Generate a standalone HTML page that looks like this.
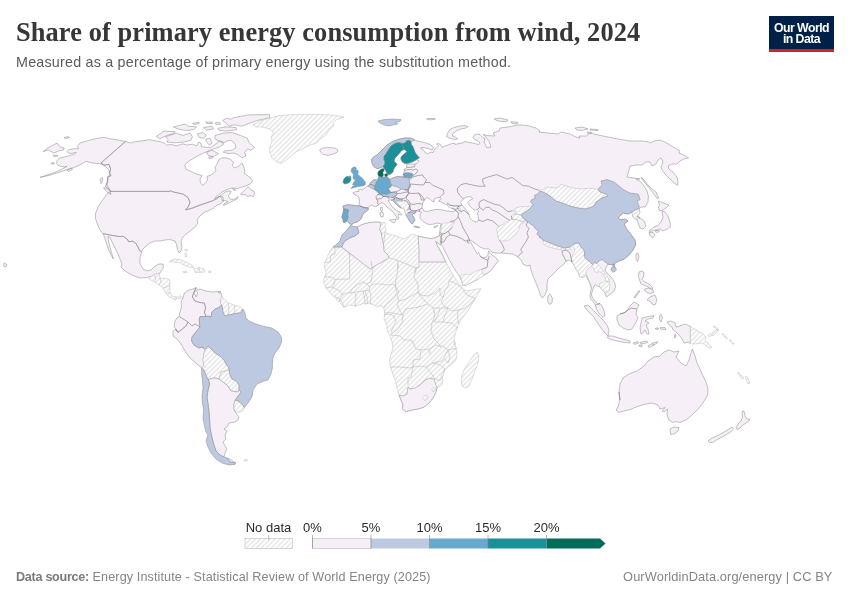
<!DOCTYPE html>
<html><head><meta charset="utf-8">
<title>Share of primary energy consumption from wind, 2024</title>
<style>
html,body{margin:0;padding:0;background:#fff;}
body{width:850px;height:600px;position:relative;overflow:hidden;font-family:"Liberation Sans",sans-serif;}
.abs{position:absolute;white-space:nowrap;line-height:1;}
#title{left:16px;top:18.7px;font-family:"Liberation Serif",serif;font-weight:bold;font-size:26.4px;color:#373737;letter-spacing:0.1px;}
#sub{left:16px;top:55.3px;font-size:14.3px;color:#5b5b5b;letter-spacing:0.22px;}
#logo{left:769px;top:16px;width:65px;height:33px;background:#002147;border-bottom:3px solid #ce261e;}
#logo div{position:absolute;left:0;width:65px;text-align:center;color:#fff;font-weight:bold;font-size:12.3px;letter-spacing:-0.55px;line-height:1;}
#src{left:16px;top:570.6px;font-size:12.6px;color:#858585;letter-spacing:0.12px}
#src b{color:#7a7a7a;letter-spacing:-0.28px}
#lic{right:17.5px;top:570.6px;font-size:12.8px;color:#858585;letter-spacing:0.11px}
svg{position:absolute;left:0;top:0;}
.lg{font-size:13px;fill:#2a2a2a;text-anchor:middle;font-family:"Liberation Sans",sans-serif;}
</style></head><body>
<svg id="map" width="850" height="600" viewBox="0 0 850 600">
<defs>
<pattern id="hatch" patternUnits="userSpaceOnUse" width="3.5" height="3.5" patternTransform="rotate(-45)">
<rect width="3.5" height="3.5" fill="#fff"/><line x1="0" y1="1.75" x2="3.5" y2="1.75" stroke="#e6e6e6" stroke-width="1.45"/>
</pattern>
</defs>
<g id="land" stroke="#868686" stroke-width="0.5" stroke-linejoin="round">
<path fill="#f6eff7" d="M125.6 141.4 L130.0 143.0 L136.0 141.6 L144.0 140.6 L149.0 139.6 L154.0 140.5 L158.5 141.4 L164.1 142.8 L166.7 145.2 L171.2 144.5 L176.8 145.9 L182.5 143.8 L186.7 145.0 L192.4 144.2 L196.6 145.9 L198.7 142.0 L201.1 143.1 L201.5 146.6 L206.5 147.4 L210.7 147.4 L215.0 144.5 L219.2 141.0 L222.7 141.7 L223.4 144.5 L219.2 147.1 L213.5 149.0 L209.3 150.5 L203.6 153.0 L196.6 156.5 L189.5 160.8 L184.6 165.0 L186.0 169.2 L192.4 172.1 L195.0 173.5 L198.0 174.5 L202.0 175.5 L200.0 179.0 L200.5 183.0 L202.5 185.5 L205.0 183.5 L207.5 180.0 L207.0 176.5 L212.0 174.5 L216.0 171.0 L215.0 167.5 L216.5 165.0 L219.0 159.5 L222.0 157.8 L227.0 158.0 L230.5 159.5 L233.5 162.0 L232.5 165.5 L234.5 168.0 L238.0 166.5 L242.0 163.0 L244.0 167.5 L245.0 171.5 L244.0 173.0 L248.0 176.0 L251.0 178.5 L252.5 180.5 L251.0 183.5 L249.0 184.5 L245.0 186.0 L241.0 187.5 L237.0 188.5 L233.0 188.0 L230.0 188.5 L226.0 190.0 L222.0 192.0 L218.5 195.0 L216.0 196.5 L214.5 199.0 L220.0 196.0 L213.0 200.5 L208.0 202.5 L203.0 204.0 L197.0 206.5 L191.6 208.5 L185.6 210.0 L188.0 207.0 L190.0 202.4 L188.0 197.6 L183.0 194.0 L176.0 192.6 L171.4 191.4 L170.4 190.4 L170.0 191.4 L111.0 191.4 L109.0 189.0 L105.6 186.4 L106.6 184.0 L107.6 180.0 L107.6 177.0 L111.0 175.6 L109.6 173.0 L110.6 169.0 L109.0 164.4 L104.0 165.2 L101.0 163.0ZM103.6 187.6 L107.0 188.4 L110.0 191.6 L111.0 194.4 L108.4 193.0 L105.0 190.0ZM220.0 196.2 L221.2 195.2 L225.0 192.0 L228.0 191.0 L231.0 191.0 L230.5 193.0 L228.5 195.5 L229.0 198.0 L231.5 199.5 L235.0 199.0 L238.0 196.5 L237.0 199.0 L233.0 201.0 L228.0 203.5 L223.5 205.5 L224.0 204.0 L228.0 201.5 L225.0 200.5 L222.5 201.2 L221.8 199.0ZM240.5 194.0 L245.0 190.0 L248.0 186.5 L249.5 188.5 L251.0 190.0 L254.0 191.0 L254.5 194.0 L253.0 197.0 L251.0 195.5 L248.0 196.5 L245.0 194.5 L242.0 194.7ZM232.5 188.5 L235.0 189.5 L236.0 190.5 L233.5 190.0ZM156.4 136.3 L164.1 131.1 L175.4 131.8 L172.6 133.9 L166.9 135.4 L159.9 138.6ZM165.5 136.8 L176.1 133.2 L183.2 135.4 L190.2 133.2 L192.4 136.8 L190.9 140.3 L183.9 142.0 L175.4 142.8 L166.9 142.0 L168.1 139.6ZM173.3 126.9 L185.3 124.1 L188.1 126.2 L196.6 126.9 L193.8 129.7 L185.3 130.4 L178.2 129.0ZM192.4 123.4 L198.7 122.2 L199.4 123.4 L193.8 124.5ZM205.8 121.9 L212.1 122.2 L212.8 123.6 L206.5 123.4ZM203.6 127.6 L212.1 126.2 L213.5 129.0 L206.5 130.1ZM214.9 123.1 L219.2 122.2 L220.6 124.1 L216.4 124.8ZM233.3 117.7 L248.8 114.9 L269.6 114.6 L269.6 117.7 L257.3 120.5 L248.8 123.4 L241.8 126.2 L234.7 124.8 L229.1 126.2 L226.2 123.4 L222.7 120.5 L226.2 118.4 L231.2 119.1ZM217.8 128.3 L226.2 126.9 L236.1 127.6 L236.8 129.7 L226.2 131.1 L219.2 130.4ZM214.9 135.4 L223.4 133.2 L231.9 132.5 L240.4 135.4 L247.4 138.2 L248.8 142.4 L254.5 147.4 L250.9 150.2 L247.4 148.8 L244.6 152.3 L246.0 155.8 L241.8 157.9 L237.5 154.4 L233.3 153.0 L229.1 153.7 L223.4 152.3 L224.1 150.9 L231.9 150.2 L236.1 147.4 L234.7 143.1 L231.2 140.3 L226.9 141.0 L223.4 143.1 L219.2 141.0 L214.9 138.9ZM197.3 133.9 L202.9 132.5 L206.5 135.4 L203.6 138.2 L199.4 137.5ZM205.8 138.9 L210.0 138.2 L212.1 143.1 L209.3 145.2 L206.5 141.7ZM206.5 152.3 L212.1 150.2 L218.5 153.7 L213.5 156.5 L208.6 155.8ZM208.6 157.2 L212.1 156.5 L212.8 157.9 L209.3 158.6ZM111.0 191.4 L170.0 191.4 L170.4 190.4 L171.4 191.4 L176.0 192.6 L183.0 194.0 L188.0 197.6 L190.0 202.4 L188.0 207.0 L185.6 210.0 L192.0 208.0 L198.0 205.6 L203.0 204.0 L208.0 202.4 L213.0 200.6 L217.0 199.0 L220.0 196.0 L223.0 197.0 L223.6 201.0 L220.0 204.0 L217.0 205.0 L213.6 208.0 L210.0 210.0 L205.0 212.0 L202.0 214.0 L199.0 217.0 L197.0 220.0 L198.0 223.0 L195.0 227.0 L190.0 231.0 L185.6 234.4 L182.0 238.0 L181.0 242.0 L182.0 247.0 L181.0 251.0 L179.0 253.0 L177.4 249.0 L176.4 244.0 L175.0 241.0 L170.0 239.6 L165.0 240.0 L160.0 241.0 L155.0 241.0 L150.0 243.0 L146.0 246.0 L143.0 249.0 L141.6 252.0 L139.4 250.4 L138.0 247.0 L135.6 243.0 L132.0 241.0 L129.0 242.0 L127.0 239.0 L123.0 236.2 L120.0 236.6 L116.0 236.0 L110.0 235.0 L103.0 233.6 L100.0 230.0 L97.6 225.0 L95.6 219.0 L95.4 214.0 L97.6 208.0 L101.0 202.0 L105.0 197.0 L108.0 193.0ZM125.6 141.4 L118.0 140.0 L109.6 138.6 L104.0 137.4 L96.0 138.6 L88.0 140.6 L80.0 143.0 L77.6 146.4 L78.4 149.0 L75.0 148.6 L69.0 149.6 L67.0 151.6 L70.0 153.6 L76.4 152.4 L74.0 154.4 L66.0 156.6 L60.0 158.0 L57.0 160.6 L56.6 163.6 L59.0 166.0 L64.0 167.0 L67.0 166.4 L58.0 171.0 L50.0 174.0 L40.0 177.4 L50.0 175.2 L60.0 172.0 L68.0 169.4 L72.4 168.0 L79.0 165.4 L86.0 161.2 L89.0 162.2 L94.0 163.2 L100.0 163.6 L104.0 165.2 L109.0 164.4 L110.6 169.0 L109.6 173.0 L111.0 175.6 L108.0 177.0 L107.6 180.0 L106.6 184.0 L105.6 186.4 L109.0 189.0 L111.0 192.0 L109.0 189.0 L107.0 185.0 L108.0 181.0 L107.6 177.0 L109.6 175.0 L109.0 170.0 L106.0 167.0 L101.0 163.0ZM43.0 151.6 L48.0 148.0 L57.0 143.0 L60.0 147.0 L64.0 148.0 L63.6 150.0 L58.0 151.0 L54.0 153.0 L50.0 151.0 L48.0 150.0ZM64.0 137.6 L68.0 136.6 L69.6 137.6 L66.0 138.6ZM53.0 155.4 L57.0 155.0 L58.0 156.0 L54.0 156.6ZM51.0 163.0 L54.0 162.6 L54.4 164.0 L51.6 164.2ZM67.0 170.0 L71.6 168.0 L72.4 169.6 L68.4 171.4ZM100.0 179.0 L102.4 177.6 L102.8 180.0 L101.0 183.6ZM4.0 263.0 L7.0 264.5 L6.0 267.0 L3.5 266.0ZM103.0 233.6 L110.0 235.0 L116.0 236.0 L120.0 236.6 L123.0 236.2 L127.0 239.0 L129.0 242.0 L132.0 241.0 L135.6 243.0 L138.0 247.0 L139.4 250.4 L141.6 252.0 L140.0 258.0 L140.0 264.0 L143.0 269.0 L147.0 271.0 L151.0 270.0 L155.0 266.0 L159.0 264.0 L163.0 264.0 L163.4 268.0 L161.0 271.0 L159.6 273.6 L156.0 274.0 L153.6 276.0 L154.4 280.0 L150.0 276.4 L147.0 277.6 L140.0 278.0 L132.0 275.0 L125.0 271.0 L121.0 267.0 L122.0 264.0 L120.0 259.0 L117.0 252.0 L113.0 244.0 L110.0 237.4 L108.0 236.6 L108.4 241.0 L110.0 247.0 L112.0 254.0 L113.4 259.0 L111.0 255.0 L108.4 249.0 L106.0 242.0 L104.4 237.0Z"/>
<path fill="url(#hatch)" stroke="#bcbcbc" d="M169.0 261.6 L174.0 259.0 L180.0 259.6 L186.0 262.0 L192.0 265.0 L194.0 267.6 L189.0 267.0 L184.0 265.0 L179.0 262.4 L173.0 262.0ZM194.0 269.0 L199.0 267.6 L204.0 269.0 L205.0 272.0 L200.0 272.4 L195.0 272.4ZM183.0 271.6 L186.0 271.0 L187.0 272.4 L183.6 273.0ZM208.4 271.2 L211.0 271.0 L211.0 272.4 L208.4 272.4ZM184.4 249.6 L187.0 249.0 L187.4 251.0 L185.6 250.4ZM185.0 253.6 L186.4 253.2 L186.6 257.0 L185.2 256.6ZM149.0 279.0 L150.0 276.4 L154.0 275.0 L159.0 273.0 L160.0 278.0 L166.0 278.4 L170.0 280.0 L169.6 286.0 L170.0 292.0 L172.0 296.0 L177.0 297.0 L181.0 295.6 L183.0 298.0 L181.0 299.0 L178.0 298.0 L175.0 300.0 L172.0 298.0 L169.0 297.0 L166.0 293.0 L163.0 288.0 L159.0 285.0 L154.0 281.6Z"/>
<path fill="#f6eff7" d="M183.0 298.0 L184.4 293.0 L189.0 290.0 L193.0 289.0 L196.0 287.6 L193.6 293.0 L192.4 297.0 L195.0 301.0 L200.0 302.6 L204.4 303.0 L205.6 308.0 L204.4 312.4 L206.0 316.6 L200.0 316.6 L199.2 320.0 L200.0 327.0 L195.0 324.0 L192.0 326.0 L188.0 322.0 L183.0 319.0 L179.0 316.6 L180.0 312.0 L181.6 307.0 L181.0 302.0ZM196.0 287.6 L198.0 290.0 L200.0 289.0 L206.0 291.0 L212.0 292.0 L217.0 291.6 L221.0 293.0 L222.0 297.0 L220.0 300.0 L221.6 305.0 L218.0 308.0 L215.0 309.0 L212.0 312.0 L211.0 317.0 L208.0 316.0 L206.0 316.6 L204.4 312.4 L205.6 308.0 L204.4 303.0 L200.0 302.6 L195.0 301.0 L192.4 297.0 L193.6 293.0Z"/>
<path fill="#ffffff" d="M194.4 293.0 L196.0 290.0 L197.6 293.0 L196.0 297.0Z"/>
<path fill="#f6eff7" d="M218.4 291.4 L220.4 291.2 L220.4 292.8 L218.6 292.8Z"/>
<path fill="url(#hatch)" stroke="#bcbcbc" d="M222.0 297.0 L225.0 300.0 L229.0 303.0 L234.0 305.0 L239.0 306.4 L243.0 309.0 L241.0 313.0 L238.0 313.0 L233.0 314.0 L228.0 315.0 L225.0 316.0 L223.0 312.0 L222.4 307.0 L221.6 305.0 L220.0 300.0Z"/>
<path fill="#f6eff7" d="M179.0 316.6 L183.0 319.0 L188.0 322.0 L186.0 326.0 L181.0 330.0 L178.0 332.4 L175.6 329.0 L174.0 326.0 L175.0 321.0 L177.0 318.0ZM175.6 329.0 L178.0 332.4 L181.0 330.0 L186.0 326.0 L188.0 322.0 L192.0 326.0 L195.0 324.0 L200.0 327.0 L195.0 333.0 L192.0 337.0 L191.6 341.0 L194.0 345.0 L199.0 348.0 L202.0 347.0 L205.0 350.0 L203.6 355.0 L203.0 360.0 L204.0 365.0 L202.0 368.0 L197.0 364.0 L190.0 358.0 L185.0 351.0 L181.0 344.0 L177.0 339.0 L173.0 336.0 L173.0 331.6Z"/>
<path fill="url(#hatch)" stroke="#bcbcbc" d="M205.0 350.0 L206.0 349.0 L208.0 346.0 L211.0 349.0 L215.0 353.0 L220.0 356.0 L224.0 360.0 L226.0 364.0 L229.0 368.0 L229.0 370.0 L225.0 371.0 L221.0 372.0 L219.0 379.0 L215.0 378.0 L211.0 378.4 L208.4 380.0 L206.0 375.0 L204.0 370.0 L202.0 368.0 L204.0 365.0 L203.0 360.0 L203.6 355.0ZM221.0 372.0 L225.0 371.0 L229.0 370.0 L230.0 375.0 L232.0 379.0 L236.0 381.0 L239.0 385.0 L239.0 390.0 L238.0 392.0 L231.0 391.0 L228.0 386.0 L223.0 382.0 L219.0 379.0ZM235.0 400.0 L238.0 401.0 L242.0 404.0 L244.4 407.6 L243.0 411.0 L239.0 412.4 L235.6 411.6 L234.0 410.0 L233.6 405.0Z"/>
<path fill="#bdc9e1" d="M206.0 316.6 L208.0 316.0 L211.0 317.0 L212.0 312.0 L215.0 309.0 L218.0 308.0 L221.6 305.0 L222.4 307.0 L223.0 312.0 L225.0 316.0 L228.0 315.0 L233.0 314.0 L238.0 313.0 L241.0 313.0 L243.0 309.0 L245.0 313.0 L246.0 318.0 L249.0 321.0 L256.0 324.0 L264.0 326.4 L272.0 328.0 L278.0 332.0 L281.4 337.0 L281.6 342.0 L279.0 348.0 L275.0 353.0 L273.0 358.0 L272.4 364.0 L272.4 368.0 L271.0 374.0 L268.0 380.0 L264.0 381.0 L257.0 384.0 L253.0 390.0 L252.0 397.0 L248.0 403.0 L244.4 407.6 L242.0 404.0 L238.0 401.0 L235.0 400.0 L238.0 396.0 L241.0 392.0 L239.0 390.0 L239.0 385.0 L236.0 381.0 L232.0 379.0 L230.0 375.0 L229.0 370.0 L229.0 368.0 L226.0 364.0 L224.0 360.0 L220.0 356.0 L215.0 353.0 L211.0 349.0 L208.0 346.0 L206.0 349.0 L202.0 347.0 L199.0 348.0 L194.0 345.0 L191.6 341.0 L192.0 337.0 L195.0 333.0 L200.0 327.0 L199.2 320.0 L200.0 316.6Z"/>
<path fill="#f6eff7" d="M209.6 384.0 L208.4 380.0 L211.0 378.4 L215.0 378.0 L219.0 379.0 L223.0 382.0 L228.0 386.0 L231.0 391.0 L238.0 392.0 L239.0 390.0 L241.0 392.0 L238.0 396.0 L235.0 400.0 L233.6 405.0 L234.0 410.0 L236.0 413.0 L239.0 417.0 L238.0 420.0 L235.0 422.0 L229.0 423.0 L227.0 427.0 L224.0 429.0 L227.0 431.0 L225.0 435.0 L226.0 439.0 L223.0 442.0 L225.0 446.0 L227.0 449.0 L225.0 453.0 L224.0 457.0 L220.0 455.0 L216.0 451.0 L213.6 444.0 L211.6 436.0 L210.0 428.0 L209.6 420.0 L209.0 412.0 L208.0 404.0 L207.0 397.0 L208.0 390.0ZM227.0 458.0 L230.0 459.0 L235.6 463.0 L230.0 462.0Z"/>
<path fill="#bdc9e1" d="M201.6 368.0 L204.0 370.0 L206.0 375.0 L208.4 380.0 L209.6 384.0 L208.0 390.0 L207.0 397.0 L208.0 404.0 L209.0 412.0 L209.6 420.0 L210.0 428.0 L211.6 436.0 L213.6 444.0 L216.0 451.0 L220.0 455.0 L224.0 457.0 L227.0 458.0 L230.0 462.0 L235.6 463.0 L235.0 464.4 L229.0 465.0 L222.0 463.0 L216.0 459.0 L211.0 453.0 L208.0 447.0 L206.0 441.0 L208.0 435.0 L206.0 432.0 L204.4 426.0 L203.0 418.0 L203.6 410.0 L202.4 403.0 L202.0 396.0 L203.0 388.0 L202.4 380.0 L201.6 373.0Z"/>
<path fill="url(#hatch)" stroke="#bcbcbc" d="M244.0 460.0 L247.0 459.4 L247.6 460.8 L244.4 461.2Z"/>
<path fill="#f6eff7" d="M414.5 140.5 L420.0 141.5 L426.0 143.0 L431.0 145.0 L433.5 147.5 L432.0 150.0 L429.0 149.0 L426.0 148.0 L423.0 147.5 L420.5 148.0 L423.5 150.0 L425.0 152.5 L428.0 154.0 L430.0 152.0 L433.0 152.5 L434.5 149.5 L437.0 147.5 L438.5 145.5 L436.5 144.0 L438.5 143.5 L441.0 145.0 L442.5 147.5 L445.0 146.0 L448.0 145.0 L452.0 143.5 L454.5 143.0 L455.0 144.5 L459.0 143.5 L463.0 143.0 L464.0 141.5 L467.0 142.0 L470.0 142.5 L474.0 143.5 L479.0 144.5 L480.0 143.0 L477.0 140.5 L474.5 139.5 L473.0 137.5 L474.5 135.0 L477.0 134.0 L480.0 134.5 L483.0 137.5 L485.0 138.5 L484.0 142.0 L487.0 148.0 L491.0 147.0 L489.0 141.0 L485.0 136.0 L483.0 134.4 L487.0 135.6 L495.0 136.0 L493.0 133.0 L499.0 131.0 L500.0 128.0 L508.0 127.0 L518.0 125.0 L523.0 125.0 L529.0 126.0 L536.0 128.0 L540.0 131.0 L539.0 132.0 L548.0 133.0 L558.0 134.0 L561.0 132.0 L570.0 134.0 L576.0 137.0 L580.0 138.0 L579.0 136.0 L586.0 136.0 L590.0 133.0 L598.0 135.0 L608.0 137.0 L618.0 139.0 L630.0 141.0 L640.0 141.0 L640.0 141.0 L648.0 141.6 L650.0 143.0 L654.0 141.0 L660.0 140.0 L665.0 142.0 L670.0 145.0 L675.0 148.0 L680.0 151.0 L679.0 153.0 L684.0 155.0 L688.6 158.0 L684.0 159.0 L680.0 161.0 L677.0 164.0 L672.0 164.0 L668.0 166.0 L669.0 169.0 L673.0 172.0 L677.0 177.0 L678.0 182.0 L677.6 185.6 L673.0 182.0 L669.0 178.0 L665.0 174.0 L662.0 170.0 L661.0 167.0 L663.0 162.0 L661.0 158.0 L658.0 160.0 L656.0 164.0 L652.0 166.0 L650.0 162.0 L646.0 162.0 L642.0 165.0 L636.0 165.0 L630.0 166.0 L627.0 177.0 L640.0 179.0 L636.0 179.0 L641.0 182.0 L644.0 186.0 L647.0 191.0 L648.4 196.0 L648.0 202.0 L645.0 207.0 L641.0 207.0 L639.0 209.0 L640.0 213.0 L637.0 216.0 L640.0 218.0 L644.0 221.0 L646.0 226.0 L643.0 229.0 L640.0 228.0 L638.4 224.0 L637.0 219.0 L635.0 219.0 L633.0 217.0 L632.0 212.0 L628.0 214.0 L623.0 213.0 L621.0 215.0 L618.0 218.0 L621.0 220.0 L625.0 219.0 L628.0 221.0 L624.0 224.0 L626.0 228.0 L629.0 232.0 L632.0 236.0 L635.0 240.0 L635.6 245.0 L633.0 250.0 L629.0 255.0 L624.0 259.0 L619.0 261.0 L615.0 263.0 L613.0 265.0 L608.0 264.0 L606.5 267.0 L605.0 270.0 L607.0 273.0 L610.0 276.0 L613.0 279.5 L615.0 283.5 L615.5 287.5 L614.0 291.0 L611.0 293.5 L608.5 295.5 L606.5 297.0 L605.0 293.5 L604.0 291.5 L602.0 290.0 L600.0 287.0 L597.5 286.0 L595.5 284.5 L594.0 286.0 L593.0 289.0 L592.0 292.0 L591.5 295.0 L592.5 298.0 L594.5 300.5 L596.5 303.0 L598.5 304.0 L600.0 303.5 L602.0 306.0 L603.5 309.5 L604.5 313.0 L605.0 316.0 L603.0 317.0 L599.5 314.0 L597.5 311.0 L596.0 308.0 L595.5 305.0 L594.5 303.5 L592.5 301.0 L590.5 299.0 L590.0 296.0 L590.5 292.0 L591.5 288.0 L590.5 285.0 L588.5 280.0 L586.0 275.0 L583.0 277.5 L579.5 276.5 L578.5 273.0 L576.0 269.0 L574.0 265.5 L572.0 261.0 L572.0 262.0 L569.0 260.0 L566.0 261.0 L564.0 264.0 L560.0 267.0 L556.0 271.0 L552.0 275.0 L548.0 279.0 L547.0 284.0 L547.0 290.0 L545.0 295.0 L542.4 298.0 L540.0 294.0 L538.0 288.0 L535.6 282.0 L533.0 276.0 L531.0 270.0 L530.0 265.0 L527.0 266.0 L523.0 264.0 L521.0 260.0 L518.0 257.0 L513.0 254.0 L507.0 253.6 L502.0 253.0 L500.6 253.1 L496.4 253.1 L492.1 252.4 L488.6 248.9 L484.4 248.9 L479.4 246.8 L475.2 243.2 L470.9 240.4 L468.1 239.7 L469.5 241.1 L470.9 242.5 L473.1 246.8 L475.2 250.3 L477.3 253.8 L478.7 252.4 L480.1 255.9 L482.2 257.4 L485.8 257.4 L487.9 255.2 L488.6 251.0 L490.0 252.4 L492.1 255.2 L495.6 257.4 L498.5 260.9 L494.9 265.1 L492.1 269.4 L487.9 272.9 L482.9 275.7 L478.0 279.2 L472.4 282.1 L466.7 284.9 L462.8 285.6 L461.8 281.4 L459.6 276.4 L456.1 271.5 L452.6 265.8 L449.1 259.5 L446.2 253.8 L443.4 248.2 L440.6 242.5 L438.8 240.7 L439.2 236.2 L439.9 230.5 L440.6 224.9 L442.0 224.5 L440.0 223.5 L437.0 223.0 L434.0 224.0 L430.0 224.5 L427.0 224.0 L424.0 222.0 L421.5 220.0 L420.0 217.5 L420.0 214.5 L421.5 212.5 L419.5 211.5 L416.0 211.0 L415.5 213.0 L413.0 213.5 L412.5 215.5 L414.0 218.0 L415.0 220.5 L413.5 221.5 L412.5 224.0 L410.5 222.5 L409.0 220.0 L407.5 217.5 L406.0 215.0 L405.0 212.0 L404.5 209.5 L402.0 208.0 L400.0 207.5 L397.0 205.0 L394.5 202.5 L393.5 201.0 L391.0 200.0 L389.5 200.0 L388.0 200.5 L389.5 202.5 L391.0 205.0 L393.5 208.0 L396.5 210.5 L400.0 212.5 L402.0 214.5 L400.5 215.0 L398.5 214.0 L398.0 216.0 L399.0 218.0 L397.5 219.5 L396.5 217.5 L395.0 214.5 L392.5 211.5 L389.5 209.0 L386.5 206.5 L384.5 204.0 L382.0 202.5 L379.5 204.0 L377.0 206.0 L374.5 206.5 L371.5 205.0 L369.0 206.5 L368.0 208.0 L368.5 209.5 L366.0 211.5 L363.5 213.5 L362.0 216.0 L361.5 218.0 L359.5 220.5 L357.0 222.0 L354.0 222.8 L351.5 224.5 L350.0 224.0 L348.0 222.0 L347.0 220.0 L346.0 222.0 L343.5 222.5 L343.0 219.5 L341.8 217.0 L342.8 214.0 L343.5 211.0 L343.5 208.8 L343.0 206.0 L347.0 204.8 L351.0 205.0 L355.0 205.5 L360.0 206.0 L359.0 204.5 L359.5 201.0 L359.0 198.0 L357.0 195.5 L353.5 194.0 L353.0 192.5 L356.5 191.5 L359.0 191.5 L358.5 189.5 L360.5 189.0 L362.0 190.0 L365.0 188.0 L366.5 186.5 L368.0 186.0 L369.5 184.5 L371.0 182.0 L373.5 180.0 L376.0 179.8 L378.0 179.5 L379.0 176.5 L378.5 175.0 L378.2 172.0 L379.5 170.5 L382.0 169.5 L382.8 171.0 L382.0 173.0 L381.5 175.0 L380.5 176.5 L382.0 177.5 L385.0 177.0 L388.0 177.5 L389.8 179.5 L394.0 177.5 L398.0 176.5 L403.0 177.0 L403.5 174.0 L404.5 170.5 L404.5 169.0 L407.0 167.5 L406.5 164.5 L409.5 163.8 L414.0 164.2 L417.0 163.0 L418.8 161.5 L418.2 160.0 L416.0 160.0 L412.0 162.0 L408.0 163.3 L405.0 163.5 L402.5 162.0 L401.0 159.5 L401.0 157.0 L403.0 155.0 L405.5 153.0 L407.0 151.5 L405.0 150.0 L404.0 149.5 L401.5 150.5 L400.0 152.5 L397.5 155.5 L395.0 158.0 L394.0 161.0 L396.0 163.0 L397.0 164.5 L395.0 167.0 L393.5 169.5 L393.0 172.0 L390.5 174.0 L388.5 174.7 L387.0 173.0 L385.5 170.5 L384.0 168.0 L383.0 166.5 L381.0 167.5 L378.0 168.5 L375.5 168.0 L373.0 165.5 L372.0 162.5 L371.5 159.5 L373.5 157.0 L377.0 155.0 L380.0 152.0 L384.0 148.0 L387.0 145.0 L391.0 142.5 L395.0 140.5 L400.0 139.0 L405.0 138.0 L410.0 138.0 L414.5 139.5Z"/>
<path fill="#ffffff" d="M422.0 208.0 L422.5 204.0 L424.5 200.0 L426.5 197.5 L429.5 198.5 L432.0 201.2 L434.2 201.8 L433.8 199.5 L436.5 197.8 L440.5 197.2 L441.2 199.2 L438.5 201.0 L442.0 202.5 L446.0 204.5 L450.0 206.5 L454.0 208.5 L456.0 210.0 L454.5 211.2 L451.0 211.5 L447.0 211.0 L443.0 210.0 L439.0 209.5 L435.0 209.5 L431.0 210.5 L427.5 211.5 L424.0 211.0ZM460.6 202.4 L463.4 198.9 L466.9 196.8 L471.2 196.8 L472.6 198.9 L469.8 200.3 L467.6 202.4 L469.8 205.9 L472.6 208.8 L474.7 210.2 L477.5 209.5 L478.9 210.9 L477.5 213.0 L478.2 216.5 L478.9 220.1 L476.1 222.2 L472.6 220.8 L469.8 217.9 L469.1 214.4 L466.9 210.9 L464.1 207.4 L462.0 205.2Z"/>
<path fill="#f6eff7" d="M446.5 136.5 L448.0 132.5 L450.0 129.5 L454.0 127.5 L460.0 126.0 L465.0 125.5 L468.0 126.5 L466.0 128.0 L461.0 129.0 L456.0 131.0 L453.0 133.5 L452.5 136.0 L456.0 137.5 L457.8 139.0 L455.0 139.5 L451.0 138.5 L448.0 137.5ZM426.5 118.8 L431.0 118.4 L435.5 118.8 L434.0 119.6 L429.0 119.8ZM494.0 119.0 L500.0 118.0 L508.0 120.0 L506.0 121.6 L498.0 121.0ZM511.0 121.6 L518.0 122.4 L517.0 124.0 L512.0 123.4ZM575.0 128.0 L582.0 127.0 L588.0 129.0 L582.0 130.4 L577.0 130.0ZM590.0 129.0 L598.0 129.6 L598.0 130.6 L590.0 130.0ZM587.0 132.0 L592.0 132.4 L591.0 133.6 L587.6 133.2ZM641.0 177.0 L644.0 180.0 L648.0 185.0 L652.0 189.0 L656.0 192.0 L657.0 195.0 L659.0 198.0 L657.0 198.4 L654.0 194.0 L650.0 189.0 L646.0 184.0 L642.4 180.0ZM658.0 201.0 L661.0 202.0 L666.0 204.0 L669.0 205.0 L666.0 208.0 L663.0 210.0 L660.0 211.0 L658.4 208.0 L659.4 204.4ZM662.0 211.0 L665.0 212.0 L668.0 216.0 L670.0 222.0 L670.4 227.0 L667.0 229.0 L663.0 231.0 L660.0 229.0 L656.0 230.0 L652.0 231.0 L649.0 232.4 L650.0 230.0 L654.0 227.0 L658.0 225.6 L661.0 222.0 L663.0 217.0ZM649.0 233.0 L653.0 232.4 L655.0 235.0 L653.0 238.0 L650.0 235.6ZM655.6 230.4 L659.6 230.6 L658.0 232.4 L655.6 232.0ZM636.0 254.0 L638.0 253.0 L639.0 257.0 L637.6 261.6 L636.0 259.0Z"/>
<path fill="#bdc9e1" d="M616.3 269.3 L615.9 270.7 L615.0 271.6 L613.6 272.0 L612.2 271.6 L611.3 270.7 L610.9 269.3 L611.3 267.9 L612.2 267.0 L613.6 266.6 L615.0 267.0 L615.9 267.9Z"/>
<path fill="#f6eff7" d="M548.0 296.0 L550.0 294.0 L552.4 298.0 L552.0 303.0 L549.6 304.4 L547.6 301.0ZM433.5 227.0 L435.5 226.0 L438.0 225.5 L436.5 227.0 L434.5 228.0Z"/>
<path fill="#bdc9e1" d="M414.0 226.0 L417.0 226.5 L419.5 227.0 L419.5 227.8 L416.5 227.5 L414.2 226.8Z"/>
<path fill="#f6eff7" d="M389.5 220.0 L393.0 219.5 L396.0 219.0 L395.5 221.5 L394.0 223.0 L391.0 221.5ZM380.0 212.5 L382.5 212.0 L383.5 214.5 L383.0 217.0 L381.0 217.0 L380.2 215.0ZM380.5 207.5 L382.0 207.0 L382.5 209.5 L381.5 211.5 L380.5 210.0ZM319.6 150.0 L323.0 148.0 L329.0 147.6 L335.0 148.0 L338.0 150.0 L337.0 152.4 L333.0 154.0 L328.0 155.4 L323.0 154.4 L321.0 152.4Z"/>
<path fill="#bdc9e1" d="M378.0 121.0 L384.0 119.6 L392.0 119.0 L401.0 119.6 L400.0 121.6 L395.0 122.4 L398.0 124.0 L393.0 125.0 L389.0 126.0 L384.0 125.0 L380.0 123.0Z"/>
<path fill="url(#hatch)" stroke="#bcbcbc" d="M253.0 125.0 L260.0 121.0 L270.0 118.0 L280.0 115.6 L296.0 114.4 L316.0 114.4 L332.0 115.0 L344.0 117.0 L336.0 120.0 L333.0 123.0 L334.0 126.0 L329.0 130.0 L326.0 135.0 L320.0 139.0 L317.0 143.0 L310.0 145.0 L304.0 148.0 L296.0 152.0 L290.0 157.0 L285.0 161.0 L281.0 163.6 L277.0 162.0 L272.0 158.0 L269.6 152.0 L270.0 146.0 L272.0 141.0 L271.0 137.0 L274.0 133.0 L270.0 129.0 L262.0 127.0 L256.0 127.0ZM348.0 229.0 L350.0 226.0 L351.5 225.5 L353.5 226.5 L357.5 227.0 L361.0 225.0 L365.0 223.5 L370.0 222.5 L375.0 222.0 L379.0 222.2 L381.0 223.0 L382.5 222.0 L385.0 222.5 L385.5 225.0 L384.5 227.0 L386.5 229.5 L385.0 232.0 L388.0 234.0 L396.0 236.0 L404.0 239.0 L408.0 237.0 L412.0 234.0 L418.0 236.0 L424.0 237.4 L431.0 238.6 L436.0 237.4 L440.0 235.4 L442.0 239.0 L440.6 245.0 L438.0 243.0 L435.6 241.4 L438.0 247.0 L442.0 254.0 L446.0 262.0 L449.0 268.0 L453.0 275.0 L457.0 281.0 L461.0 286.0 L463.0 289.0 L467.0 291.0 L474.0 289.4 L481.0 288.6 L478.0 294.0 L474.0 301.0 L469.0 309.0 L464.0 316.0 L460.0 321.0 L458.0 325.0 L456.0 331.0 L454.4 337.0 L454.0 345.0 L455.0 342.0 L456.0 348.0 L457.0 354.0 L456.0 360.0 L452.0 364.0 L447.0 368.0 L443.0 372.0 L441.0 376.0 L443.0 380.0 L442.0 385.0 L437.0 388.0 L436.0 392.0 L433.0 398.0 L429.0 403.0 L424.0 407.0 L418.0 409.0 L412.0 410.0 L406.0 411.6 L402.4 409.0 L403.0 405.0 L401.0 400.0 L399.0 395.0 L397.0 388.0 L395.0 380.0 L392.0 372.0 L390.0 365.0 L389.6 360.0 L391.0 354.0 L393.0 348.0 L392.0 342.0 L390.0 336.0 L387.0 330.0 L387.0 325.0 L384.0 319.0 L385.0 314.0 L384.0 309.0 L381.0 305.0 L378.0 307.0 L374.0 305.0 L368.0 303.0 L362.0 304.0 L356.0 306.0 L350.0 305.0 L344.0 307.0 L339.0 302.0 L335.0 298.0 L331.0 294.0 L327.0 289.0 L324.0 284.0 L323.0 280.0 L325.0 277.0 L326.0 272.0 L324.0 265.0 L325.0 262.0 L327.0 257.0 L330.0 251.0 L333.0 247.0 L336.0 245.0 L340.0 241.0 L342.0 235.0 L345.0 232.0ZM461.0 382.0 L462.0 375.0 L465.0 368.0 L469.0 362.0 L473.0 356.0 L477.0 352.0 L479.0 356.0 L478.0 363.0 L475.0 371.0 L472.0 379.0 L469.0 386.0 L465.0 388.0 L462.0 386.0Z"/>
<path fill="#bdc9e1" d="M348.0 229.0 L350.0 226.0 L351.5 225.5 L353.5 226.5 L357.5 227.0 L359.0 233.0 L355.0 236.0 L350.0 238.0 L345.0 241.0 L343.0 244.0 L342.0 247.0 L333.0 247.0 L336.0 245.0 L340.0 241.0 L342.0 235.0 L345.0 232.0Z"/>
<path fill="#f6eff7" d="M357.5 227.0 L361.0 225.0 L365.0 223.5 L370.0 222.5 L375.0 222.0 L379.0 222.2 L381.0 223.0 L380.5 226.0 L379.5 229.0 L381.0 232.0 L383.6 245.0 L384.0 251.0 L388.0 255.0 L389.0 258.0 L375.0 266.0 L370.0 269.0 L343.0 248.0 L342.0 247.0 L343.0 244.0 L345.0 241.0 L350.0 238.0 L355.0 236.0 L359.0 233.0ZM418.0 236.0 L424.0 237.4 L431.0 238.6 L436.0 237.4 L440.0 235.4 L442.0 239.0 L440.6 245.0 L438.0 243.0 L435.6 241.4 L438.0 247.0 L442.0 254.0 L446.0 262.0 L419.0 262.0 L419.0 249.0ZM399.0 395.0 L403.0 396.0 L407.0 394.0 L408.0 387.0 L410.0 389.0 L415.0 388.0 L420.0 385.0 L425.0 380.0 L430.0 378.0 L434.0 379.0 L435.6 384.0 L437.0 388.0 L436.0 392.0 L433.0 398.0 L429.0 403.0 L424.0 407.0 L418.0 409.0 L412.0 410.0 L406.0 411.6 L402.4 409.0 L403.0 405.0 L401.0 400.0Z"/>
<path fill="url(#hatch)" stroke="#bcbcbc" d="M422.4 398.0 L426.0 395.0 L428.4 397.6 L425.0 401.0ZM431.6 389.0 L434.0 387.0 L435.6 390.0 L433.0 392.0Z"/>
<path fill="#f6eff7" d="M620.0 400.0 L619.0 392.0 L620.0 384.0 L623.0 378.0 L629.0 374.0 L637.0 371.0 L644.0 366.0 L648.0 361.0 L654.0 357.0 L660.0 356.0 L664.0 352.0 L669.0 350.0 L674.0 352.0 L679.0 351.0 L676.0 357.0 L681.0 363.0 L686.0 366.0 L689.0 360.0 L691.0 353.0 L692.4 349.0 L695.0 356.0 L697.0 363.0 L700.0 369.0 L703.0 376.0 L706.0 382.0 L708.0 389.0 L707.6 395.0 L707.0 396.0 L703.0 403.0 L698.0 409.0 L692.0 415.0 L686.0 420.0 L680.0 422.4 L676.0 421.6 L673.0 422.4 L669.0 420.0 L667.0 415.0 L667.6 409.0 L664.0 412.0 L662.0 411.0 L665.0 407.6 L660.0 409.0 L658.0 405.0 L652.0 403.0 L644.0 404.4 L636.0 407.0 L630.0 409.6 L624.0 411.0 L619.0 412.4 L616.0 410.0 L618.4 406.0 L619.6 400.0 L619.0 392.0ZM670.0 429.0 L674.0 427.0 L679.0 427.6 L678.0 431.0 L674.0 434.0 L670.6 434.4ZM736.0 428.0 L738.0 424.0 L741.0 421.0 L742.4 417.0 L742.0 411.6 L744.0 411.0 L745.0 416.0 L747.0 419.0 L750.0 419.6 L747.0 422.4 L743.0 425.0 L740.0 428.0 L737.0 429.6ZM708.0 441.0 L712.0 438.0 L719.0 435.0 L726.0 431.0 L732.0 427.0 L733.6 429.0 L730.0 432.4 L724.0 436.0 L718.0 439.0 L713.0 442.4 L709.6 442.4Z"/>
<path fill="url(#hatch)" stroke="#bcbcbc" d="M737.6 373.0 L739.0 372.4 L743.6 378.0 L742.0 379.0Z"/>
<path fill="#f6eff7" d="M584.0 306.0 L588.0 305.0 L593.0 310.0 L598.0 315.0 L603.0 320.0 L607.0 325.0 L609.0 330.0 L608.0 336.0 L605.0 333.0 L601.0 328.0 L597.0 322.0 L593.0 316.0 L588.0 311.0ZM608.0 336.0 L613.0 336.0 L619.0 338.0 L625.0 339.6 L630.0 341.0 L630.0 343.0 L624.0 342.4 L617.0 341.0 L611.0 339.6 L607.6 338.0ZM617.0 316.0 L620.0 314.0 L626.0 312.0 L630.0 306.0 L634.0 302.0 L639.0 305.0 L637.0 309.0 L636.0 314.0 L638.0 318.0 L635.0 324.0 L632.0 329.0 L628.0 330.0 L623.0 328.0 L619.0 325.0 L617.0 320.0ZM642.0 318.0 L648.0 316.6 L654.0 315.6 L653.0 318.0 L648.0 319.0 L645.0 321.0 L649.0 323.0 L646.0 325.0 L648.0 329.0 L649.0 334.0 L647.0 334.0 L645.0 330.0 L643.0 333.0 L641.0 334.0 L640.0 328.0 L641.0 323.0ZM659.6 316.0 L661.0 314.4 L662.4 318.0 L661.0 322.0 L659.6 320.0ZM633.0 343.0 L638.0 341.6 L638.4 343.2 L634.0 344.4ZM640.0 342.4 L647.0 341.0 L647.6 342.6 L641.0 344.0ZM639.0 345.0 L642.0 345.0 L642.0 346.6 L639.4 346.6ZM648.0 346.0 L653.0 343.0 L657.6 341.6 L657.0 343.2 L652.0 346.0 L649.0 347.6ZM655.6 328.0 L658.4 328.0 L658.4 329.2 L655.6 329.2ZM660.0 327.6 L665.0 327.6 L666.0 329.6 L661.0 329.2ZM674.4 335.0 L675.6 334.0 L676.0 337.0 L674.6 338.0ZM667.0 322.0 L671.0 321.0 L675.0 323.0 L676.0 327.0 L680.0 326.0 L685.0 324.0 L690.4 326.4 L690.4 343.6 L688.0 342.0 L684.0 343.0 L682.0 339.0 L679.0 335.0 L676.0 332.0 L673.0 330.0 L672.0 327.0 L669.0 325.0Z"/>
<path fill="url(#hatch)" stroke="#bcbcbc" d="M690.4 326.4 L696.0 330.0 L702.0 333.0 L706.0 337.0 L705.0 340.0 L709.0 344.0 L712.0 347.6 L709.0 348.0 L705.0 345.0 L702.0 343.0 L698.0 343.6 L693.0 344.0 L690.4 343.6ZM708.0 335.0 L712.0 333.0 L717.0 329.0 L718.0 331.0 L714.0 335.0 L709.0 336.6ZM713.0 326.4 L714.4 326.0 L719.0 329.6 L718.0 330.4ZM722.0 334.0 L723.0 333.4 L727.6 338.4 L726.4 339.2ZM729.0 340.0 L730.0 339.6 L734.0 343.6 L733.0 344.4Z"/>
<path fill="#f6eff7" d="M639.0 272.0 L642.0 271.0 L644.0 272.5 L643.5 276.5 L642.0 279.5 L644.5 282.0 L647.5 283.0 L650.0 285.0 L653.0 288.0 L651.5 289.5 L649.0 287.5 L646.0 286.0 L643.5 285.0 L641.0 284.0 L639.5 280.0 L638.5 276.5ZM644.5 289.0 L649.0 288.0 L653.0 290.0 L653.5 292.5 L650.0 293.5 L647.0 292.5 L645.0 291.0ZM650.0 297.0 L655.0 295.0 L657.0 300.0 L655.0 305.0 L652.0 304.0 L650.0 301.0 L647.0 300.0ZM634.0 297.5 L639.0 290.5 L639.8 291.0 L635.0 298.0Z"/>
<path fill="url(#hatch)" stroke="#bcbcbc" d="M745.0 377.0 L747.0 376.0 L750.0 383.0 L748.0 384.0Z"/>
<path fill="#bdc9e1" d="M371.5 159.5 L373.5 157.0 L377.0 155.0 L380.0 152.0 L384.0 148.0 L387.0 145.0 L391.0 142.5 L395.0 140.5 L400.0 139.0 L405.0 138.0 L410.0 138.0 L414.5 139.5 L413.0 141.0 L411.0 141.5 L409.0 140.2 L406.5 141.0 L405.0 143.0 L402.0 143.5 L399.0 142.5 L396.0 143.0 L393.0 144.5 L390.5 146.5 L389.0 149.0 L387.0 152.0 L386.0 154.0 L384.0 156.0 L384.0 159.5 L385.0 162.0 L384.5 164.5 L383.0 166.5 L381.0 167.5 L378.0 168.5 L375.5 168.0 L373.0 165.5 L372.0 162.5Z"/>
<path fill="#1c9099" d="M384.0 156.0 L386.0 154.0 L387.0 152.0 L389.0 149.0 L390.5 146.5 L393.0 144.5 L396.0 143.0 L399.0 142.5 L402.0 143.5 L403.0 146.5 L404.0 149.5 L401.5 150.5 L400.0 152.5 L397.5 155.5 L395.0 158.0 L394.0 161.0 L396.0 163.0 L397.0 164.5 L395.0 167.0 L393.5 169.5 L393.0 172.0 L390.5 174.0 L388.5 174.7 L387.0 173.0 L385.5 170.5 L384.0 168.0 L383.0 166.5 L384.5 164.5 L385.0 162.0 L384.0 159.5ZM404.0 149.5 L403.0 146.5 L402.0 143.5 L405.0 143.0 L406.5 141.0 L409.0 140.2 L411.0 141.5 L411.5 144.5 L413.0 146.5 L414.0 149.0 L415.0 152.0 L417.0 155.0 L419.5 157.7 L416.0 160.0 L412.0 162.0 L408.0 163.3 L405.0 163.5 L402.5 162.0 L401.0 159.5 L401.0 157.0 L403.0 155.0 L405.5 153.0 L407.0 151.5 L405.0 150.0Z"/>
<path fill="#016c59" d="M379.3 170.6 L381.3 169.0 L383.8 168.5 L384.1 170.5 L382.9 172.5 L383.6 175.0 L382.2 177.4 L379.5 177.4 L378.2 175.5 L377.6 173.0ZM384.4 174.2 L386.8 173.4 L388.1 175.0 L386.6 176.9 L385.0 176.3Z"/>
<path fill="#67a9cf" d="M403.5 174.0 L405.0 172.8 L409.0 172.8 L412.5 173.5 L413.0 175.5 L411.5 177.5 L409.0 178.0 L406.0 177.0 L404.0 175.5ZM351.5 169.0 L353.0 167.2 L355.5 167.0 L356.5 168.5 L355.0 169.5 L357.5 170.0 L358.5 172.0 L357.5 174.0 L359.5 176.0 L362.0 178.0 L364.0 180.5 L365.5 182.5 L365.0 185.0 L362.0 186.0 L358.0 186.5 L354.5 187.5 L351.0 188.5 L352.5 186.5 L355.0 185.0 L352.5 184.5 L354.0 182.0 L355.5 180.0 L353.5 179.0 L353.0 177.0 L353.5 175.0 L352.5 173.0 L351.0 171.5ZM348.5 176.0 L350.5 176.0 L351.0 177.5 L349.0 178.0Z"/>
<path fill="#1c9099" d="M343.0 182.5 L343.5 179.5 L345.0 177.5 L347.5 176.0 L349.0 178.0 L351.0 177.5 L351.0 179.5 L350.0 182.0 L347.5 183.5 L344.5 184.0Z"/>
<path fill="#bdc9e1" d="M369.5 184.5 L371.0 182.0 L373.5 180.0 L376.0 179.8 L376.5 182.0 L375.5 185.0 L374.5 186.0 L372.0 184.5ZM368.0 186.0 L369.5 184.5 L372.0 184.5 L374.5 186.0 L375.0 188.0 L374.5 189.5 L372.0 188.5 L369.5 187.0Z"/>
<path fill="#67a9cf" d="M376.5 182.0 L378.0 179.5 L379.0 176.5 L380.5 176.5 L382.0 177.5 L385.0 177.0 L388.0 177.5 L389.8 179.5 L390.5 183.0 L391.5 185.0 L391.0 187.0 L388.0 188.5 L389.5 191.0 L391.0 192.5 L389.5 193.5 L387.0 194.5 L384.0 194.0 L381.0 194.5 L379.0 193.5 L377.0 191.0 L374.5 189.5 L375.0 188.0 L374.5 186.0 L375.5 185.0Z"/>
<path fill="#bdc9e1" d="M389.8 179.5 L394.0 177.5 L398.0 176.5 L403.0 177.0 L406.0 177.5 L409.0 178.5 L409.5 182.0 L410.5 186.0 L409.0 189.0 L405.0 190.0 L402.0 189.0 L400.5 189.5 L399.0 187.5 L395.0 186.5 L391.5 185.0 L390.5 183.0ZM384.0 194.0 L387.0 194.5 L389.5 193.5 L391.0 192.5 L394.0 192.0 L396.5 192.5 L397.0 194.5 L395.0 196.5 L391.5 197.5 L388.5 197.0 L385.0 196.5 L383.0 196.5 L382.0 195.0ZM394.0 199.5 L394.5 197.8 L397.0 198.0 L400.0 199.0 L403.0 199.8 L402.5 201.5 L399.0 201.0 L396.5 201.2 L397.0 203.5 L400.0 206.0 L402.0 208.0 L400.0 207.5 L397.0 205.0 L394.5 202.5 L393.5 201.0ZM343.0 206.0 L347.0 204.8 L351.0 205.0 L355.0 205.5 L360.0 206.0 L364.0 207.5 L368.0 208.0 L368.5 209.5 L366.0 211.5 L363.5 213.5 L362.0 216.0 L361.5 218.0 L359.5 220.5 L357.0 222.0 L354.0 222.8 L351.5 224.5 L350.0 224.0 L348.0 222.0 L347.0 220.0 L348.0 217.0 L347.5 214.0 L348.5 211.0 L348.0 209.5 L343.5 208.8Z"/>
<path fill="#67a9cf" d="M343.5 208.8 L348.0 209.5 L348.5 211.0 L347.5 214.0 L348.0 217.0 L347.0 220.0 L346.0 222.0 L343.5 222.5 L343.0 219.5 L341.8 217.0 L342.8 214.0 L343.5 211.0Z"/>
<path fill="#bdc9e1" d="M406.0 215.0 L408.0 213.0 L411.0 212.0 L414.0 211.5 L416.0 211.0 L415.5 213.0 L413.0 213.5 L412.5 215.5 L414.0 218.0 L415.0 220.5 L413.5 221.5 L412.5 224.0 L410.5 222.5 L409.0 220.0 L407.5 217.5Z"/>
<path fill="url(#hatch)" stroke="#bcbcbc" d="M396.5 201.2 L399.0 201.0 L402.5 201.5 L404.0 200.5 L406.5 201.0 L408.5 203.5 L409.5 206.0 L409.0 208.0 L407.5 209.5 L407.0 211.5 L408.0 212.8 L406.0 215.0 L405.0 212.0 L404.5 209.5 L402.0 208.0 L400.0 206.0 L397.0 203.5ZM442.0 224.5 L443.0 223.0 L447.0 223.0 L451.0 222.5 L454.5 221.5 L453.0 225.0 L450.0 229.0 L446.0 232.5 L443.0 235.0 L440.5 235.0 L441.0 231.0 L441.5 227.0ZM447.2 203.1 L450.0 205.2 L454.2 205.9 L459.2 205.9 L459.9 208.1 L455.6 208.8 L451.4 208.1 L448.6 207.4ZM455.6 208.8 L459.9 208.1 L462.0 211.6 L459.9 213.7 L457.1 211.6ZM460.4 275.7 L464.6 274.3 L470.9 274.3 L476.6 270.8 L481.5 269.4 L483.6 275.7 L478.0 279.2 L472.4 282.1 L466.7 284.9 L462.8 285.6 L461.8 281.4ZM498.7 226.4 L502.9 224.3 L506.5 222.2 L509.3 220.1 L512.1 219.4 L516.4 219.4 L519.2 220.8 L523.4 221.5 L525.5 220.1 L527.6 221.0 L523.4 222.9 L519.9 225.0 L519.2 228.5 L517.8 231.4 L515.6 234.2 L512.1 237.0 L509.3 239.8 L504.4 241.2 L499.4 240.5 L498.0 237.0 L497.3 232.8 L496.6 229.2ZM511.4 215.8 L514.2 214.4 L517.8 214.4 L521.3 215.1 L522.7 217.9 L525.5 220.1 L523.4 221.5 L519.2 220.8 L516.4 219.4 L512.1 219.4ZM512.1 210.9 L515.6 208.1 L520.6 206.6 L529.1 206.6 L532.6 205.2 L531.2 207.4 L526.9 210.9 L523.4 213.0 L521.3 215.1 L517.8 214.4 L514.9 213.7 L514.2 214.4 L516.4 211.6ZM543.0 240.0 L550.0 243.0 L558.0 246.0 L562.0 247.0 L561.6 249.6 L556.0 249.0 L549.0 247.0 L543.0 243.6ZM565.0 248.0 L570.0 247.4 L570.4 249.6 L565.6 250.0ZM574.0 243.6 L579.0 243.0 L581.0 247.0 L584.0 250.0 L585.0 255.0 L588.0 259.0 L590.0 262.0 L592.5 264.5 L591.0 266.0 L588.0 269.0 L586.0 271.5 L586.5 275.0 L587.5 279.0 L589.5 283.0 L591.5 288.0 L590.5 285.0 L588.5 280.0 L586.0 275.0 L583.0 277.5 L579.5 276.5 L578.5 273.0 L576.0 269.0 L574.0 265.5 L572.0 261.0 L571.0 258.0 L573.0 254.0 L575.0 250.0 L573.0 247.0ZM592.5 264.5 L594.5 262.5 L597.0 263.5 L599.0 265.5 L601.0 267.5 L602.5 270.0 L604.5 272.5 L607.5 276.5 L609.5 280.0 L609.0 282.0 L606.5 281.5 L605.5 280.5 L605.0 277.5 L603.0 274.0 L600.0 271.5 L596.5 272.5 L594.5 271.5 L593.5 268.0 L591.5 266.5ZM600.0 287.0 L599.5 283.5 L603.0 282.5 L605.5 280.5 L606.5 281.5 L609.0 282.0 L610.0 286.0 L609.5 289.5 L607.5 292.0 L605.0 293.5 L604.0 291.5 L602.0 290.0ZM632.0 212.0 L635.0 210.0 L639.0 209.0 L640.0 213.0 L637.0 216.0 L640.0 218.0 L637.0 219.0 L635.0 219.0 L633.0 217.0ZM540.0 191.0 L547.0 187.0 L554.0 188.0 L559.0 187.0 L561.0 184.0 L566.0 186.0 L574.0 188.0 L582.0 189.0 L590.0 188.0 L597.0 189.0 L600.0 192.0 L606.0 194.0 L608.0 196.0 L602.0 198.0 L596.0 202.0 L594.0 206.0 L586.0 209.0 L578.0 208.0 L570.0 206.0 L562.0 203.0 L556.0 201.0 L550.0 196.0 L545.0 193.0Z"/>
<path fill="#bdc9e1" d="M613.0 264.2 L614.8 264.2 L614.6 267.2 L613.2 267.2ZM540.0 191.0 L545.0 193.0 L550.0 196.0 L556.0 201.0 L562.0 203.0 L570.0 206.0 L578.0 208.0 L586.0 209.0 L594.0 206.0 L596.0 202.0 L602.0 198.0 L608.0 196.0 L606.0 194.0 L600.0 192.0 L598.0 189.0 L602.0 185.0 L601.0 181.0 L607.0 179.6 L614.0 182.0 L619.0 186.0 L624.0 190.0 L630.0 193.0 L638.0 194.0 L638.7 195.0 L640.2 199.6 L637.0 201.0 L639.4 206.7 L638.7 208.5 L635.0 210.0 L632.0 212.0 L628.0 214.0 L623.0 213.0 L621.0 215.0 L618.0 218.0 L621.0 220.0 L625.0 219.0 L628.0 221.0 L624.0 224.0 L626.0 228.0 L629.0 232.0 L632.0 236.0 L635.0 240.0 L635.6 245.0 L633.0 250.0 L629.0 255.0 L624.0 259.0 L619.0 261.0 L615.0 263.0 L614.0 264.7 L610.0 264.5 L608.0 264.0 L605.0 262.0 L602.0 259.5 L599.0 261.0 L597.0 263.5 L594.5 262.5 L592.5 264.5 L590.0 262.0 L585.0 258.0 L584.0 255.0 L585.0 255.0 L584.0 250.0 L581.0 247.0 L579.0 243.0 L574.0 243.6 L570.0 247.0 L564.0 248.0 L558.0 246.0 L550.0 243.0 L543.0 240.0 L539.0 237.0 L540.4 237.0 L536.8 234.2 L538.2 231.4 L535.4 228.5 L533.3 225.7 L529.8 223.6 L527.6 221.5 L525.5 220.1 L522.7 217.9 L521.3 215.1 L523.4 213.0 L526.9 210.9 L531.2 207.4 L533.0 204.5 L530.5 202.0 L531.6 199.6 L535.1 198.2 L534.4 195.4 L537.8 193.9Z"/>
<path fill="none" stroke="#6c6c6c" stroke-width="0.55" d="M463.4 198.9 L459.9 195.4 L457.8 192.5 L457.1 189.0 L460.6 184.8 L465.5 183.4 L471.2 184.8 L478.2 186.2 L485.3 186.2 L483.2 183.4 L482.5 179.1 L488.1 177.0 L496.6 174.6 L502.2 177.0 L507.2 179.1 L512.1 177.4 L517.1 181.2 L522.7 185.5 L528.4 186.2 L534.7 189.0 L539.6 190.4M477.5 209.5 L479.6 207.4 L478.9 203.8 L480.4 201.0 L483.9 199.6 L488.1 201.7 L491.6 203.1 L495.2 204.5 L499.4 205.2 L503.6 208.1 L507.9 211.6 L512.1 210.9M479.6 207.4 L483.2 210.2 L486.0 207.4 L489.5 207.4 L492.4 210.2 L496.6 211.6 L500.8 214.4 L505.8 217.9 L509.3 220.1M478.9 220.1 L482.5 221.5 L487.4 219.4 L492.4 220.8 L496.6 224.3 L498.7 226.4M512.1 219.4 L511.4 215.8M499.4 240.5 L502.2 244.1 L504.4 249.7 L501.2 253.1M527.6 221.5 L526.2 225.7 L529.1 228.5 L526.9 232.8 L528.4 237.0 L526.2 241.2 L523.4 245.5 L520.6 249.7 L522.4 252.4 L517.5 256.6M458.5 217.2 L460.6 221.5 L462.7 227.1 L465.5 232.1 L468.4 237.0 L469.8 241.2M451.4 208.1 L454.2 209.5 L457.1 211.6 L458.5 213.7 L457.8 217.2 L458.5 217.2 L454.2 220.8 L450.0 221.5M459.2 205.9 L457.1 207.4 L458.5 210.2 L461.3 211.6 L464.1 210.2 L466.9 213.0 L469.1 214.4M447.2 203.1 L450.0 205.2 L454.2 205.9 L459.2 205.9 L462.0 205.2M468.1 240.4 L467.0 242.1 L469.5 243.2M442.0 234.1 L444.8 233.4 L448.4 231.2 L449.8 234.8 L446.2 237.6 L444.1 241.8 L440.6 242.5M440.2 232.6 L442.0 234.1 L441.0 237.6 L440.6 242.5M452.6 227.0 L448.4 231.2M449.8 234.8 L456.1 236.2 L461.1 238.3 L465.3 241.1 L468.1 240.4M480.1 255.9 L482.2 258.1 L487.9 260.2 L487.2 267.2 L481.5 269.4M487.9 260.2 L489.3 255.9M562.0 251.0 L566.0 250.0 L570.0 253.0 L571.0 258.0 L572.0 262.0M562.0 251.0 L562.4 254.0 L564.0 257.0 L566.0 261.0M595.5 305.0 L597.5 304.5 L600.0 303.5M409.5 179.5 L413.0 177.0 L418.0 175.5 L422.5 175.0 L424.5 178.0 L426.5 179.5 L425.0 182.5 L423.5 185.0 L416.0 184.5 L410.5 184.0M425.0 182.5 L430.0 182.5 L433.0 185.5 L438.0 187.5 L443.5 190.0 L444.0 193.5 L441.5 195.5 L440.5 196.5M410.5 184.0 L408.5 188.0 L408.0 190.0 L408.5 193.0 L413.0 193.5 L418.5 193.0 L422.5 196.5 L424.5 200.0M418.5 193.0 L420.5 196.5 L421.5 200.0 L424.5 200.0M408.5 193.5 L407.0 195.5 L406.0 198.5 L409.0 201.0 L410.0 203.5 L413.0 204.5 L417.5 203.5 L422.5 204.0M410.0 204.0 L410.0 207.0 L410.5 210.0 L413.0 210.5 L416.5 210.5 L419.5 209.5 L422.0 208.0M419.5 209.5 L419.5 211.5M404.5 170.5 L406.5 170.0 L409.0 169.5 L413.0 170.0 L416.0 169.0 L418.0 170.5M407.0 167.5 L411.0 167.2 L414.5 166.8 L415.0 164.2M418.0 170.5 L416.5 173.0 L413.0 175.5M403.5 174.0 L404.0 175.5 L406.0 177.0 L403.0 177.0M374.5 189.5 L377.0 191.0 L379.0 193.5 L377.5 195.0 L376.0 196.5 L376.5 199.0 L378.0 201.5 L377.5 203.5 L379.0 204.5M377.5 195.0 L379.0 194.5 L382.0 195.0 L383.0 196.5 L381.5 198.5 L379.0 199.0 L376.5 199.0M383.0 196.5 L385.0 196.5 L388.5 197.0 L389.0 199.0M388.0 188.5 L389.5 191.0 L391.0 192.5 L394.0 192.0 L398.0 191.0 L400.5 189.5M396.5 192.5 L397.0 193.5 L400.0 193.5 L404.0 192.5 L407.5 192.0 L408.5 190.0 L405.0 190.0M397.0 194.5 L395.0 196.5 L397.0 198.0 L400.0 199.0 L404.0 198.5 L406.5 196.5 L409.0 193.5 L407.5 192.0M391.5 197.5 L394.5 197.8 L394.0 199.5 L391.0 200.0M407.5 209.5 L410.0 209.0 L411.5 210.5 L410.5 212.0 L408.0 212.8M404.0 200.5 L406.5 201.0 L408.5 203.5 L409.5 206.0 L409.0 208.0 L410.0 209.0M360.0 206.0 L364.0 207.5 L368.0 208.0M637.0 216.0 L640.0 218.0M175.6 329.0 L178.0 332.4"/>
<path fill="none" stroke="#b0b0b0" stroke-width="0.5" d="M228.0 303.0 L229.0 308.0 L228.0 315.0M234.0 305.0 L235.0 310.0 L233.0 314.0M154.0 275.0 L156.0 279.0 L154.0 281.6M160.0 278.0 L161.0 282.0 L159.0 285.0M170.0 286.0 L166.0 287.0 L163.0 288.0M170.0 292.0 L168.0 293.0 L166.0 293.0M177.0 297.0 L175.6 299.0M199.0 267.6 L199.4 272.4"/>
<path fill="none" stroke="#6c6c6c" stroke-width="0.55" d="M620.0 314.0 L624.0 313.0 L628.0 310.0 L631.0 308.0 L637.0 309.0M652.6 343.6 L653.6 345.6"/>
<path fill="none" stroke="#b0b0b0" stroke-width="0.5" d="M349.6 253.0 L349.6 279.0 L335.0 279.4 L332.0 277.4 L329.0 277.0 L324.0 277.0M335.0 279.4 L334.0 284.0 L332.0 287.0 L325.0 288.0M332.0 287.0 L336.0 289.0 L340.0 291.0 L343.0 295.0 L340.0 299.0 L339.0 302.0M334.0 295.0 L337.0 298.0 L340.0 299.0 L343.0 304.0 L344.0 308.0M343.0 295.0 L346.0 293.0 L350.0 293.0 L355.0 292.0 L356.0 297.0 L355.0 303.0 L355.6 307.0M356.0 292.0 L363.0 291.0 L364.4 297.0 L365.0 303.0 L366.4 305.0M365.0 291.0 L367.0 297.0 L367.6 304.0M369.0 290.0 L371.0 295.0 L370.4 304.0M350.0 293.0 L352.0 289.0 L357.0 285.0 L363.0 282.0 L367.0 284.0 L370.0 287.0 L369.0 290.0 L363.0 291.0M367.0 284.0 L371.0 282.0 L372.0 276.0 L372.4 269.0 L371.0 261.0M370.0 287.0 L373.0 284.0 L380.0 284.0 L388.0 285.0 L394.0 284.0 L395.6 287.0M395.6 287.0 L397.0 293.0 L394.0 298.0 L389.0 302.0 L386.0 305.0 L384.0 308.0M398.0 264.0 L397.0 275.0 L395.6 281.0 L395.6 287.0M395.6 287.0 L399.0 291.0 L397.0 296.0 L399.0 301.0 L397.0 305.0 L400.0 311.0 L403.0 315.0M399.0 301.0 L406.0 299.0 L413.0 295.0 L418.0 292.0M415.6 268.0 L414.0 277.0 L418.0 284.0 L418.0 292.0M418.0 292.0 L420.0 295.0 L428.0 296.0 L435.0 293.0 L440.0 288.0 L440.0 294.0 L443.0 298.0M418.0 292.0 L422.0 298.0 L428.0 304.0 L433.0 308.0 L440.0 308.0 L448.0 308.0M403.0 315.0 L406.0 309.0 L414.0 308.0 L422.0 306.0 L428.0 304.0M443.0 298.0 L441.0 302.0 L444.0 306.0 L448.0 308.0M443.0 298.0 L445.0 291.0 L448.0 286.0 L449.0 281.0 L453.0 275.0M449.0 281.0 L453.0 282.0 L458.0 285.0 L462.4 288.6M463.0 290.0 L467.0 295.0 L475.0 298.0 L469.0 305.0 L463.0 309.0 L458.0 310.0 L452.0 311.0 L448.0 308.0M458.0 310.0 L457.6 319.0 L459.0 324.0M443.0 322.0 L452.0 323.0 L458.4 328.6M440.0 308.0 L438.0 315.0 L434.0 322.0 L443.0 322.0 L445.0 315.0 L448.0 308.0M433.0 308.0 L435.0 315.0 L432.0 323.0 L431.0 331.0 L434.0 339.0 L438.0 343.0 L441.0 347.0M441.0 345.0 L448.0 350.0 L457.0 348.0M403.0 315.0 L402.0 323.0 L398.0 329.0 L394.0 332.0 L391.0 335.0M384.0 315.0 L389.0 314.0 L394.0 316.0 L396.0 322.0 L393.0 327.0 L391.0 333.0M384.0 313.0 L390.0 312.6 L398.0 314.0 L403.0 315.0M391.0 335.0 L400.0 336.0 L404.0 340.0 L412.0 340.0 L414.0 345.0 L416.0 349.0 L421.0 350.0 L429.0 349.0 L430.0 354.0M421.0 350.0 L420.0 359.0 L413.0 360.0 L413.0 367.0M429.0 349.0 L436.0 345.0 L441.0 347.0M448.0 350.0 L445.0 356.0 L442.0 361.0 L433.0 363.0 L426.0 367.0 L420.0 366.0 L413.0 367.0M448.0 350.0 L450.0 357.0 L448.0 363.0 L445.0 359.0M433.0 363.0 L440.0 365.0 L445.0 369.0 L443.0 376.0 L440.0 381.0M426.0 367.0 L431.0 373.0 L435.0 379.0 L440.0 381.0M413.0 367.0 L411.0 377.0 L408.0 378.0 L408.0 385.0M390.0 367.0 L400.0 367.0 L410.0 368.0 L413.0 367.0M333.0 247.0 L335.0 248.0 L335.0 254.0 L331.0 255.0 L330.0 262.0 L325.0 262.6M342.0 247.0 L335.0 247.4M343.0 248.0 L349.0 253.0 L349.6 255.0M389.0 258.0 L397.0 260.0 L398.0 264.0 L398.0 269.0M397.0 260.0 L416.0 268.0 L419.0 267.0 L419.0 262.0M381.0 232.0 L382.0 235.0M383.6 245.0 L385.0 232.0M419.0 267.0 L416.0 268.0 L415.6 273.0"/>
</g>
<g id="legend">
<rect x="245" y="538.5" width="47.5" height="10" fill="url(#hatch)" stroke="#bbb" stroke-width="0.6"/>
<line x1="268.7" y1="535" x2="268.7" y2="540" stroke="#999" stroke-width="0.6"/>
<text class="lg" x="268.5" y="532">No data</text>
<rect x="312.5" y="538.5" width="58.5" height="10" fill="#f6eff7" stroke="#bbb" stroke-width="0.6"/>
<rect x="371" y="538.5" width="58.5" height="10" fill="#bdc9e1"/>
<rect x="429.5" y="538.5" width="58.5" height="10" fill="#67a9cf"/>
<rect x="488" y="538.5" width="58.5" height="10" fill="#1c9099"/>
<path d="M546.5 538.5H600L605.5 543.5L600 548.5H546.5Z" fill="#016c59"/>
<g stroke="#858585" stroke-width="0.6"><line x1="312.5" y1="535" x2="312.5" y2="548.5"/><line x1="371" y1="535" x2="371" y2="548.5"/><line x1="429.5" y1="535" x2="429.5" y2="548.5"/><line x1="488" y1="535" x2="488" y2="548.5"/><line x1="546.5" y1="535" x2="546.5" y2="548.5"/></g>
<text class="lg" x="312.5" y="532">0%</text><text class="lg" x="371" y="532">5%</text><text class="lg" x="429.5" y="532">10%</text><text class="lg" x="488" y="532">15%</text><text class="lg" x="546.5" y="532">20%</text>
</g>
</svg>
<div id="title" class="abs">Share of primary energy consumption from wind, 2024</div>
<div id="sub" class="abs">Measured as a percentage of primary energy using the substitution method.</div>
<div id="logo" class="abs"><div style="top:5.6px">Our World</div><div style="top:17.2px">in Data</div></div>
<div id="src" class="abs"><b>Data source:</b> Energy Institute - Statistical Review of World Energy (2025)</div>
<div id="lic" class="abs">OurWorldinData.org/energy | CC BY</div>
</body></html>
